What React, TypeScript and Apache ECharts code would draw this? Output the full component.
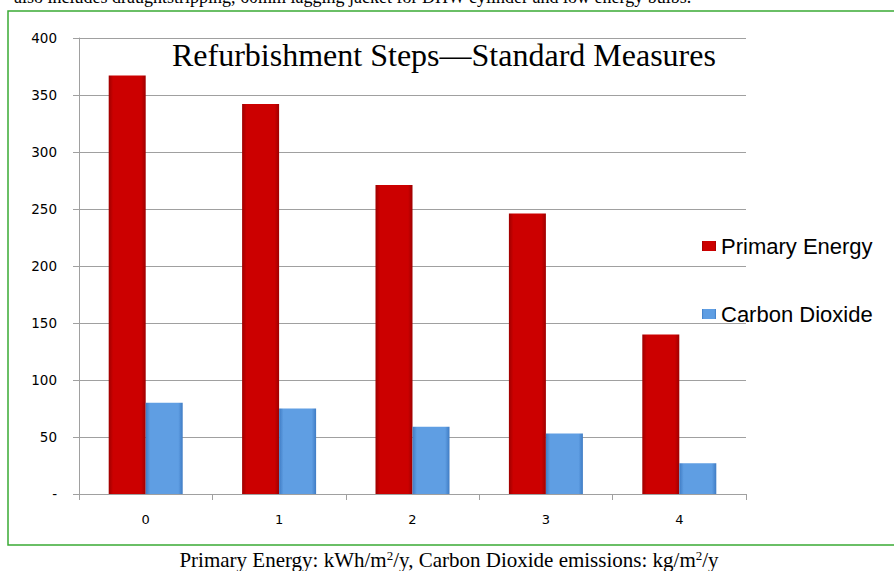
import React, { useEffect, useRef } from "react";
import * as echarts from "echarts";

const categories = ["0", "1", "2", "3", "4"];
const primaryEnergy = [367, 342, 271, 246, 140];
const carbonDioxide = [80, 75, 59, 53, 27];
const chartTitle = "Refurbishment Steps\u2014Standard Measures";
const topText = "also includes draughtstripping, 60mm lagging jacket for DHW cylinder and low energy bulbs.";

function grad(edge: string, mid: string) {
  return new echarts.graphic.LinearGradient(0, 0, 1, 0, [
    { offset: 0, color: edge },
    { offset: 0.12, color: mid },
    { offset: 0.88, color: mid },
    { offset: 1, color: edge },
  ]);
}

export default function App() {
  const ref = useRef<HTMLDivElement>(null);
  useEffect(() => {
    if (!ref.current) return;
    const chart = echarts.init(ref.current, undefined, { renderer: "svg" });
    chart.setOption({
      animation: false,
      backgroundColor: "#ffffff",
      grid: { left: 79, right: 148, top: 38, bottom: 77 },
      legend: {
        orient: "vertical",
        left: 697,
        top: 229,
        itemWidth: 14,
        itemHeight: 10,
        itemGap: 44,
        icon: "rect",
        textStyle: { fontFamily: "Liberation Sans", fontSize: 22, color: "#000", lineHeight: 24 },
        data: ["Primary Energy", "Carbon Dioxide"],
      },
      xAxis: {
        type: "category",
        data: categories,
        axisLine: { lineStyle: { color: "#a0a0a0" } },
        axisTick: { show: true, length: 6, lineStyle: { color: "#a0a0a0" } },
        axisLabel: { margin: 19, fontFamily: "DejaVu Sans", fontSize: 13, color: "#000" },
      },
      yAxis: {
        type: "value",
        min: 0,
        max: 400,
        interval: 50,
        axisLine: { show: true, lineStyle: { color: "#a0a0a0" } },
        axisTick: { show: true, length: 6, inside: false, lineStyle: { color: "#a0a0a0" } },
        splitLine: { lineStyle: { color: "#a0a0a0" } },
        axisLabel: {
          margin: 22,
          fontFamily: "DejaVu Sans",
          fontSize: 13.5,
          color: "#000",
          formatter: (v: number) => (v === 0 ? "-" : String(v)),
        },
      },
      series: [
        {
          name: "Primary Energy",
          type: "bar",
          data: primaryEnergy,
          barWidth: 37,
          barGap: "0%",
          itemStyle: { color: grad("#9e0000", "#cc0000") },
        },
        {
          name: "Carbon Dioxide",
          type: "bar",
          data: carbonDioxide,
          barWidth: 37,
          barGap: "0%",
          itemStyle: { color: grad("#3f7cc4", "#5f9ee3") },
        },
      ],
      graphic: [
        {
          type: "rect",
          shape: { x: 8, y: 11, width: 900, height: 534 },
          style: { fill: "none", stroke: "#3aaa35", lineWidth: 1.5 },
          silent: true,
        },
        {
          type: "text",
          left: 172,
          top: 39,
          style: { text: chartTitle, fontFamily: "Liberation Serif", fontSize: 32, fill: "#000" },
        },
        {
          type: "text",
          x: 14,
          y: 6,
          style: {
            text: topText,
            fontFamily: "Liberation Serif",
            fontSize: 18,
            fill: "#000",
            verticalAlign: "bottom",
          },
        },
        {
          type: "text",
          x: 449,
          y: 560,
          style: {
            text: "{a|Primary Energy: kWh/m}{s|2}{a|/y, Carbon Dioxide emissions: kg/m}{s|2}{a|/y}",
            align: "center",
            verticalAlign: "middle",
            rich: {
              a: { fontFamily: "Liberation Serif", fontSize: 21, fill: "#000" },
              s: { fontFamily: "Liberation Serif", fontSize: 13, fill: "#000", verticalAlign: "top", padding: [0, 0, 9, 0] },
            },
          },
        },
      ],
    });
    return () => chart.dispose();
  }, []);
  return (
    <div
      ref={ref}
      style={{ position: "fixed", left: 0, top: 0, width: 894, height: 571 }}
    />
  );
}
